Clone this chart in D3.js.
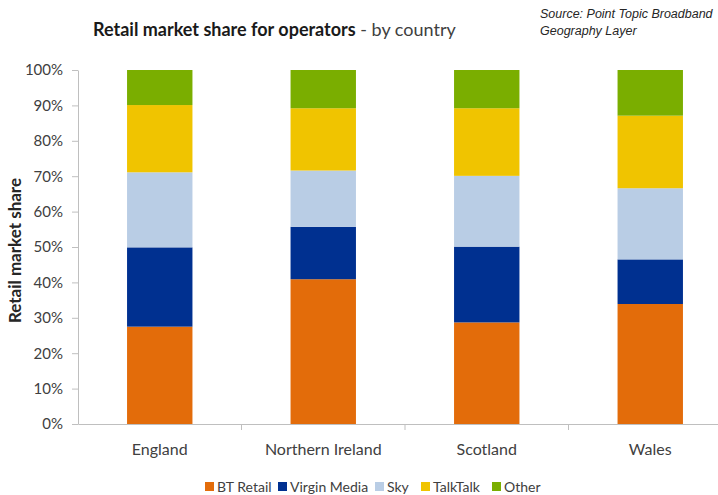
<!DOCTYPE html>
<html>
<head>
<meta charset="utf-8">
<script src="https://cdn.jsdelivr.net/npm/d3@7"></script>
<style>
  body { margin: 0; background: #fff; }
  svg { display: block; font-family: Lato, "Open Sans", sans-serif; }
  .axis path, .axis line { stroke: #bfbfbf; }
  .axis text { fill: #404040; font-family: Lato, sans-serif; }
</style>
</head>
<body>
<div id="chart"></div>
<script>
// countries along the x axis
const countries = ['England', 'Northern Ireland', 'Scotland', 'Wales'];
// operators, bottom to top of each stack
const operators = ['BT Retail', 'Virgin Media', 'Sky', 'TalkTalk', 'Other'];
const operatorColors = ['#e36c0a', '#003090', '#b9cde5', '#f0c400', '#7aae00'];

// share in % per operator, one value per country
const btRetail    = [27.5, 40.9, 28.7, 33.9];
const virginMedia = [22.4, 14.8, 21.4, 12.6];
const sky         = [21.2, 15.9, 20.0, 20.1];
const talkTalk    = [19.0, 17.6, 19.1, 20.5];
const other       = [9.9, 10.8, 10.8, 12.9];

const yTicks = [0, 10, 20, 30, 40, 50, 60, 70, 80, 90, 100];

const width = 718, height = 495;
const margin = {top: 70, left: 78, bottom: 71};

const svg = d3.select('#chart').append('svg')
    .attr('width', width)
    .attr('height', height);

// build rows for the stack generator
const seriesValues = [btRetail, virginMedia, sky, talkTalk, other];
const rows = countries.map((c, i) => {
  let obj = {country: c};
  operators.forEach((op, j) => { obj[op] = seriesValues[j][i]; });
  return obj;
});
const stacked = d3.stack().keys(operators)(rows);

const xScale = d3.scaleBand()
    .domain(countries)
    .range([margin.left, 732])
    .paddingInner(0.6)
    .paddingOuter(0.3);

const yScale = d3.scaleLinear()
    .domain([0, 100])
    .range([height - margin.bottom, margin.top]);

const colorScale = d3.scaleOrdinal().domain(operators).range(operatorColors);

// bars
svg.append('g').selectAll('g')
    .data(stacked)
    .join('g')
    .attr('fill', d => colorScale(d.key))
    .selectAll('rect')
    .data(d => d)
    .join('rect')
    .attr('x', d => xScale(d.data.country))
    .attr('y', d => yScale(d[1]))
    .attr('width', xScale.bandwidth())
    .attr('height', d => yScale(d[0]) - yScale(d[1]));

// y axis
const yAxisG = svg.append('g')
    .attr('class', 'axis')
    .attr('transform', `translate(${margin.left},0)`)
    .call(d3.axisLeft(yScale).tickValues(yTicks).tickFormat(d => d + '%').tickSize(6).tickPadding(9).tickSizeOuter(0));
yAxisG.selectAll('text').style('font-size', '15px');

// x axis, ticks sit between the categories
const xAxisG = svg.append('g')
    .attr('class', 'axis')
    .attr('transform', `translate(0,${yScale(0)})`)
    .call(d3.axisBottom(xScale).tickSize(0).tickPadding(20).tickSizeOuter(0));
xAxisG.selectAll('text').style('font-size', '16px');
// midpoint between two neighbouring bands
const gapX = d => xScale(d) - (xScale.step() - xScale.bandwidth()) / 2;
xAxisG.selectAll('.between')
    .data(countries.slice(1))
    .join('line')
    .attr('class', 'between')
    .attr('x1', gapX)
    .attr('x2', gapX)
    .attr('y1', 0)
    .attr('y2', 6);

// y axis title
svg.append('text')
    .attr('transform', `translate(21, ${yScale(49)}) rotate(-90)`)
    .attr('text-anchor', 'middle')
    .style('font-size', '17px')
    .style('font-weight', 'bold')
    .attr('fill', '#262626')
    .text('Retail market share');

// title
const title = svg.append('text')
    .attr('x', 93)
    .attr('y', 36)
    .attr('fill', '#1a1a1a')
    .style('font-size', '18px');
title.append('tspan').style('font-weight', 'bold').text('Retail market share for operators');
title.append('tspan').attr('fill', '#404040').text(' - by country');

// source note
const source = svg.append('text')
    .attr('x', 540)
    .attr('y', 18)
    .style('font-family', '"Liberation Sans", Arial, sans-serif')
    .style('font-style', 'italic')
    .style('font-size', '12.5px')
    .attr('fill', '#262626');
source.append('tspan').attr('x', 540).text('Source: Point Topic Broadband');
source.append('tspan').attr('x', 540).attr('dy', 17).text('Geography Layer');

// legend
const legendX = [205, 278, 375, 421, 492];
const legend = svg.append('g').attr('transform', 'translate(0, 482)');
legend.selectAll('rect')
    .data(operators)
    .join('rect')
    .attr('x', (d, i) => legendX[i])
    .attr('y', 0)
    .attr('width', 9)
    .attr('height', 9)
    .attr('fill', d => colorScale(d));
legend.selectAll('text')
    .data(operators)
    .join('text')
    .attr('x', (d, i) => legendX[i] + 12)
    .attr('y', 10)
    .style('font-size', '14px')
    .attr('fill', '#404040')
    .text(d => d);
</script>
</body>
</html>
